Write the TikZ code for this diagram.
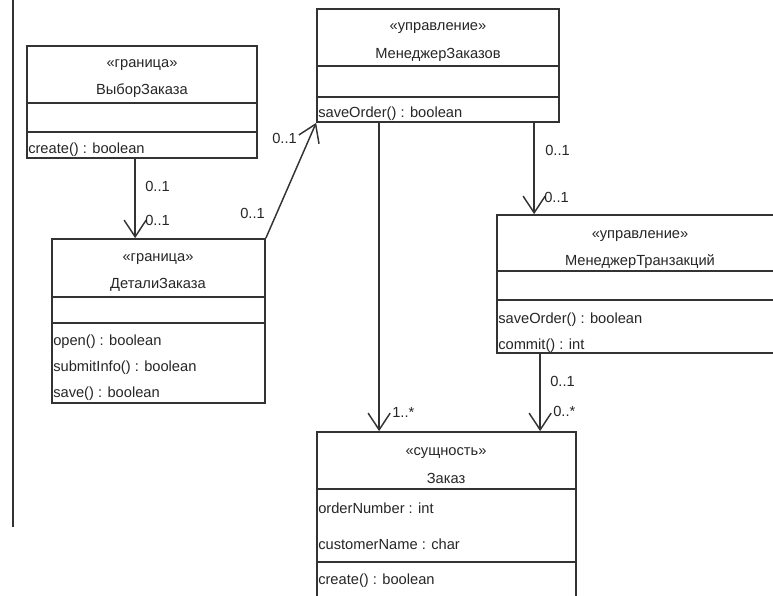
\documentclass[tikz,border=0pt]{standalone}
\usepackage{fontspec}
\setmainfont{Liberation Sans}
\usetikzlibrary{arrows.meta,fit,calc}
\definecolor{linec}{HTML}{333333}
\definecolor{txtc}{HTML}{262626}
\begin{document}
\begin{tikzpicture}[x=0.75pt,y=-0.75pt,
  cls/.style={draw=linec, line width=1.3pt, inner sep=0pt, fill=white},
  sepline/.style={draw=linec, line width=1.1pt},
  ctr/.style={text=txtc, font=\fontsize{11}{13}\selectfont, inner sep=0pt, anchor=base},
  mem/.style={text=txtc, font=\fontsize{11}{13}\selectfont, inner sep=0pt, anchor=base west},
  lbl/.style={text=txtc, font=\fontsize{11}{13}\selectfont, inner sep=0pt, anchor=base west},
  assoc/.style={draw=linec, line width=1.1pt, -{Straight Barb[length=12.5pt,width=16.5pt,line width=1.1pt]}}
]
\useasboundingbox (0,0) rectangle (773,595);
\clip (0,0) rectangle (773,595);

% left frame line
\draw[draw=linec, line width=1.5pt] (13,0) -- (13,527);

% ---- ВыборЗаказа
\node[cls, fit={(27,46) (257,158)}] (vz) {};
\draw[sepline] (27,103) -- (257,103);
\draw[sepline] (27,132) -- (257,132);
\node[ctr] (vzs) at (142,68) {«граница»};
\node[ctr] (vzn) at (142,95) {ВыборЗаказа};
\node[mem] (vzo1) at (28,154) {create() : boolean};

% ---- МенеджерЗаказов
\node[cls, fit={(317,9) (559,122)}] (mz) {};
\draw[sepline] (317,66) -- (559,66);
\draw[sepline] (317,97) -- (559,97);
\node[ctr] (mzs) at (438,31) {«управление»};
\node[ctr] (mzn) at (438,59) {МенеджерЗаказов};
\node[mem] (mzo1) at (318,118) {saveOrder() : boolean};

% ---- ДеталиЗаказа
\node[cls, fit={(52,239) (265,403)}] (dz) {};
\draw[sepline] (52,297) -- (265,297);
\draw[sepline] (52,323) -- (265,323);
\node[ctr] (dzs) at (158,261) {«граница»};
\node[ctr] (dzn) at (158,288) {ДеталиЗаказа};
\node[mem] (dzo1) at (53,345) {open() : boolean};
\node[mem] (dzo2) at (53,371) {submitInfo() : boolean};
\node[mem] (dzo3) at (53,397) {save() : boolean};

% ---- МенеджерТранзакций
\node[cls, fit={(497,215) (790,353)}] (mt) {};
\draw[sepline] (497,271) -- (790,271);
\draw[sepline] (497,300) -- (790,300);
\node[ctr] (mts) at (640,238) {«управление»};
\node[ctr] (mtn) at (640,265) {МенеджерТранзакций};
\node[mem] (mto1) at (498,323) {saveOrder() : boolean};
\node[mem] (mto2) at (498,349) {commit() : int};

% ---- Заказ
\node[cls, fit={(317,432) (576,620)}] (zk) {};
\draw[sepline] (317,489) -- (576,489);
\draw[sepline] (317,562) -- (576,562);
\node[ctr] (zks) at (446,455) {«сущность»};
\node[ctr] (zkn) at (446,483) {Заказ};
\node[mem] (zka1) at (318,513) {orderNumber : int};
\node[mem] (zka2) at (318,549) {customerName : char};
\node[mem] (zko1) at (318,584) {create() : boolean};

% ---- connectors
\coordinate (c1s) at ($(vz.south west)+(109,0)$);
\coordinate (c1e) at ($(dz.north west)+(84,0)$);
\draw[assoc] (c1s) -- (c1e);
\node[lbl] (l1a) at (145,191) {0..1};
\node[lbl] (l1b) at (145,225) {0..1};

\draw[assoc] (dz.north east) -- (mz.south west);
\node[lbl] (l2a) at (240,219) {0..1};
\node[lbl] (l2b) at (272,144) {0..1};

\coordinate (c3s) at ($(mz.south west)+(63,0)$);
\coordinate (c3e) at ($(zk.north west)+(63,0)$);
\draw[assoc] (c3s) -- (c3e);
\node[lbl] (l3b) at (392,417) {1..*};

\coordinate (c4s) at ($(mz.south west)+(218,0)$);
\coordinate (c4e) at ($(mt.north west)+(38,0)$);
\draw[assoc] (c4s) -- (c4e);
\node[lbl] (l4a) at (545,156) {0..1};
\node[lbl] (l4b) at (544,202) {0..1};

\coordinate (c5s) at ($(mt.south west)+(44,0)$);
\coordinate (c5e) at ($(zk.north west)+(224,0)$);
\draw[assoc] (c5s) -- (c5e);
\node[lbl] (l5a) at (550,386) {0..1};
\node[lbl] (l5b) at (553,416) {0..*};
\end{tikzpicture}
\end{document}
